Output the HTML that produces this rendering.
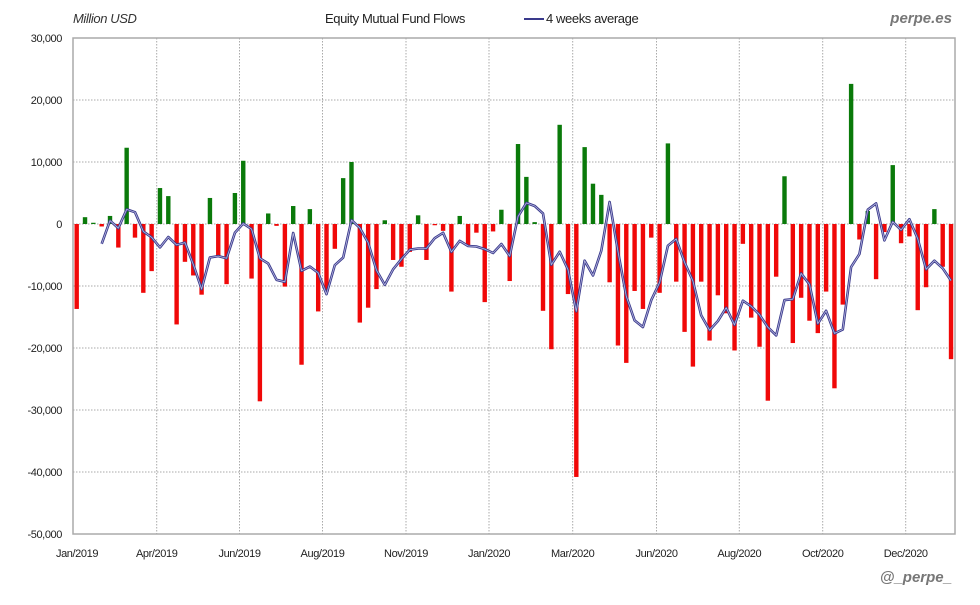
<!DOCTYPE html>
<html><head><meta charset="utf-8"><style>
body{margin:0;background:#fff;}
svg text{font-family:"Liberation Sans",sans-serif;}
</style></head><body>
<svg id="s" width="980" height="600" xmlns="http://www.w3.org/2000/svg">
<rect width="980" height="600" fill="#fff"/>
<g id="grid"></g>
<rect x="73" y="38" width="882" height="496" fill="none" stroke="#aaa" stroke-width="1.5"/>
<g id="bars"></g>
<g id="line"></g>
<g id="labels" font-size="11" fill="#222" letter-spacing="-0.4"></g>
<text x="73" y="23" font-size="13" font-style="italic" fill="#333" letter-spacing="-0.4">Million USD</text>
<text x="325" y="23" font-size="13" fill="#222" letter-spacing="-0.4">Equity Mutual Fund Flows</text>
<line x1="524" y1="19" x2="544" y2="19" stroke="#3a3a8c" stroke-width="2"/>
<text x="546" y="23" font-size="13" fill="#222" letter-spacing="-0.4">4 weeks average</text>
<text x="952" y="23" font-size="15" font-style="italic" font-weight="bold" fill="#777" text-anchor="end" font-family="Liberation Mono">perpe.es</text>
<text x="952" y="582" font-size="15" font-style="italic" font-weight="bold" fill="#777" text-anchor="end" font-family="Liberation Mono">@_perpe_</text>
</svg>
<script>
var v=[-13700,1100,200,-400,1300,-3800,12300,-2200,-11100,-7600,5800,4500,-16200,-6100,-8300,-11400,4200,-5200,-9700,5000,10200,-8800,-28600,1700,-300,-10100,2900,-22700,2400,-14100,-10900,-4000,7400,10000,-15900,-13500,-10500,600,-5800,-6900,-4500,1400,-5800,-200,-1100,-10900,1300,-3500,-1400,-12600,-1200,2300,-9200,12900,7600,300,-14000,-20200,16000,-11300,-40800,12400,6500,4700,-9400,-19600,-22400,-10800,-13700,-2200,-11100,13000,-9300,-17400,-23000,-9300,-18800,-11500,-14400,-20400,-3200,-15100,-19800,-28500,-8500,7700,-19200,-11900,-15600,-17600,-10900,-26500,-13000,22600,-2500,2100,-8900,-1300,9500,-3100,-2000,-13900,-10200,2400,-6900,-21800];
var NS="http://www.w3.org/2000/svg";
function el(p,t,a){var e=document.createElementNS(NS,t);for(var k in a)e.setAttribute(k,a[k]);p.appendChild(e);return e;}
function X(i){return 76.7+8.327*i;}
function Y(val){return 224-val*0.0062;}
var g=document.getElementById('grid'),b=document.getElementById('bars'),l=document.getElementById('line'),lb=document.getElementById('labels');
for(var k=0;k<=8;k++){var y=38+k*62;el(g,'line',{x1:73,x2:955,y1:y,y2:y,stroke:'#aaa','stroke-dasharray':'1.5,1.5'});
var t=el(lb,'text',{x:62,y:y+4,'text-anchor':'end'});t.textContent=(30-10*k===0?'0':((30-10*k)*1000).toLocaleString('en-US'));}
var gx=[156.7,239.5,322.5,406,489,572.7,656.5,739.3,822.7,905.7];
gx.forEach(function(x){el(g,'line',{x1:x,x2:x,y1:38,y2:534,stroke:'#aaa','stroke-dasharray':'1.5,1.5'});});
var names=['Jan/2019','Apr/2019','Jun/2019','Aug/2019','Nov/2019','Jan/2020','Mar/2020','Jun/2020','Aug/2020','Oct/2020','Dec/2020'];
var lx=[77].concat(gx);
names.forEach(function(n,i){var t=el(lb,'text',{x:lx[i],y:557,'text-anchor':'middle'});t.textContent=n;});
v.forEach(function(val,i){var y0=224,y1=Y(val);el(b,'rect',{x:X(i)-2.2,y:Math.min(y0,y1),width:4.4,height:Math.max(0.8,Math.abs(y1-y0)),fill:val>=0?'#0a7a0a':'#f00808'});});
var pts=[];for(var i=3;i<v.length;i++){var a=(v[i]+v[i-1]+v[i-2]+v[i-3])/4;pts.push(X(i).toFixed(1)+','+Y(a).toFixed(1));}
el(l,'polyline',{points:pts.join(' '),fill:'none',stroke:'#3a3a8c','stroke-width':2.6,'stroke-linejoin':'round'});
el(l,'polyline',{points:pts.join(' '),fill:'none',stroke:'#b8b8e0','stroke-width':0.8,'stroke-linejoin':'round'});
</script>
</body></html>
